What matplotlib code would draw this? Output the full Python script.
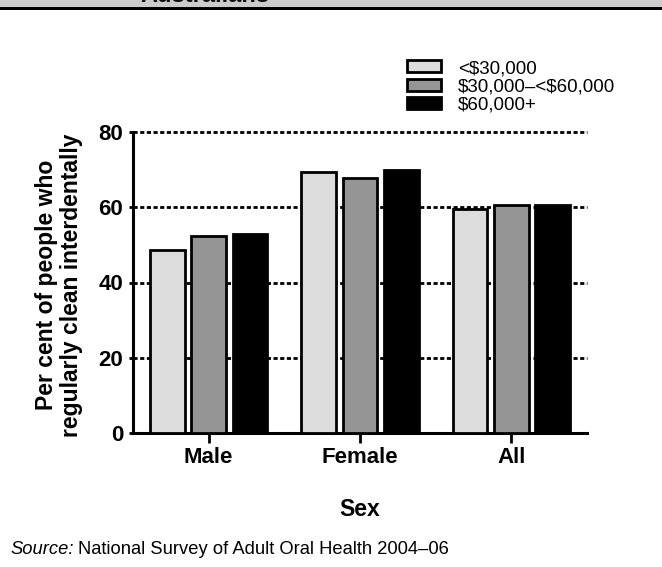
import matplotlib
matplotlib.use("Agg")
import matplotlib.pyplot as plt
import numpy as np
from matplotlib.patches import Rectangle

plt.rcParams['font.family'] = ['Liberation Sans', 'DejaVu Sans']

categories = ["Male", "Female", "All"]
series_labels = ["<\\$30,000", "\\$30,000\u2013<\\$60,000", "\\$60,000+"]
values = [
    [48.7, 69.4, 59.6],
    [52.4, 67.9, 60.5],
    [53.0, 70.0, 60.6],
]
yticks = [0, 20, 40, 60, 80]
colors = ["#dcdcdc", "#959595", "#000000"]

W, H = 662, 567
fig = plt.figure(figsize=(W / 100, H / 100), dpi=100)

# top banner remnant
fig.patches.append(Rectangle((0, 1 - 7 / H), 1, 7 / H, transform=fig.transFigure,
                             facecolor="#cccccc", edgecolor="none", zorder=0))
fig.patches.append(Rectangle((0, 1 - 9.5 / H), 1, 2.6 / H, transform=fig.transFigure,
                             facecolor="black", edgecolor="none", zorder=1))
fig.text(140 / W, 1 - 2.5 / H, "Australians", fontsize=17, fontweight="bold",
         va="baseline", ha="left", color="#111111")

ax = fig.add_axes([133 / W, 1 - 433 / H, (587 - 133) / W, (433 - 132) / H])
x = np.arange(len(categories))
bw = 0.23
off = 0.273
for i, lab in enumerate(series_labels):
    ax.bar(x + (i - 1) * off, values[i], width=bw, color=colors[i],
           edgecolor="black", linewidth=2.0, label=lab, zorder=3)

ax.set_xlim(-0.5, 2.5)
ax.set_ylim(0, 80)
ax.set_yticks(yticks)
ax.set_yticklabels([str(v) for v in yticks], fontsize=16, fontweight="bold")
ax.set_xticks(x)
ax.set_xticklabels(categories, fontsize=16, fontweight="bold")
for v in yticks[1:]:
    ax.axhline(v, color="black", linewidth=2.0, linestyle=(0, (1.5, 0.9)), zorder=1,
               clip_on=False)
for s in ["top", "right"]:
    ax.spines[s].set_visible(False)
for s in ["left", "bottom"]:
    ax.spines[s].set_linewidth(2.2)
ax.tick_params(axis="y", length=3, width=2, pad=4)
ax.tick_params(axis="x", length=7, width=2, pad=3)

fig.text(59 / W, 1 - 285 / H, "Per cent of people who\nregularly clean interdentally",
         rotation=90, ha="center", va="center", fontsize=16.5, fontweight="bold",
         linespacing=1.1)
fig.text(360 / W, 1 - 509 / H, "Sex", ha="center", va="center", fontsize=16.5,
         fontweight="bold")

leg = ax.legend(loc="upper left", bbox_to_anchor=(407 / W, 1 - 60 / H),
                bbox_transform=fig.transFigure, frameon=False, fontsize=13.5,
                handlelength=1.8, handleheight=0.6, handletextpad=0.9,
                labelspacing=0.08, borderpad=0, borderaxespad=0)

t = fig.text(10 / W, 1 - 549 / H, "Source:", fontsize=13.2, style="italic",
             ha="left", va="center")
fig.canvas.draw()
bb = t.get_window_extent()
fig.text((bb.x1 + 4) / W, 1 - 549 / H, "National Survey of Adult Oral Health 2004\u201306",
         fontsize=13.2, ha="left", va="center")

fig.savefig("out.png", dpi=100)
